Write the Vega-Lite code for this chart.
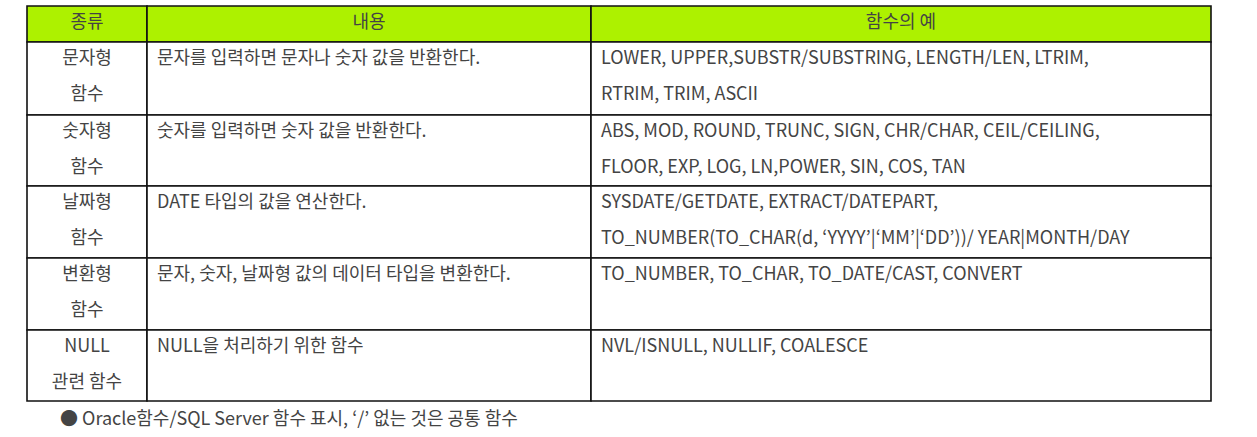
{
  "$schema": "https://vega.github.io/schema/vega-lite/v6.json",
  "width": 1257,
  "height": 437,
  "padding": 0,
  "autosize": {"type": "fit", "contains": "padding"},
  "background": "white",
  "config": {"view": {"stroke": null}},
  "datasets": {
    "rows": [
      {"r": 0, "top": 6, "bottom": 42},
      {"r": 1, "top": 42, "bottom": 115},
      {"r": 2, "top": 115, "bottom": 186},
      {"r": 3, "top": 186, "bottom": 258},
      {"r": 4, "top": 258, "bottom": 330},
      {"r": 5, "top": 330, "bottom": 401}
    ],
    "cols": [
      {"c": 0, "left": 27, "right": 147, "tx": 87, "hx": 87},
      {"c": 1, "left": 147, "right": 591, "tx": 157, "hx": 369},
      {"c": 2, "left": 591, "right": 1211, "tx": 601, "hx": 901}
    ],
    "cells": [
      {"r": 0, "c": 0, "t": "종류"},
      {"r": 0, "c": 1, "t": "내용"},
      {"r": 0, "c": 2, "t": "함수의 예"},
      {"r": 1, "c": 0, "t": "문자형\n함수"},
      {"r": 1, "c": 1, "t": "문자를 입력하면 문자나 숫자 값을 반환한다."},
      {"r": 1, "c": 2, "t": "LOWER, UPPER,SUBSTR/SUBSTRING, LENGTH/LEN, LTRIM,\nRTRIM, TRIM, ASCII"},
      {"r": 2, "c": 0, "t": "숫자형\n함수"},
      {"r": 2, "c": 1, "t": "숫자를 입력하면 숫자 값을 반환한다."},
      {"r": 2, "c": 2, "t": "ABS, MOD, ROUND, TRUNC, SIGN, CHR/CHAR, CEIL/CEILING,\nFLOOR, EXP, LOG, LN,POWER, SIN, COS, TAN"},
      {"r": 3, "c": 0, "t": "날짜형\n함수"},
      {"r": 3, "c": 1, "t": "DATE 타입의 값을 연산한다."},
      {"r": 3, "c": 2, "t": "SYSDATE/GETDATE, EXTRACT/DATEPART,\nTO_NUMBER(TO_CHAR(d, ‘YYYY’|‘MM’|‘DD’))/ YEAR|MONTH/DAY"},
      {"r": 4, "c": 0, "t": "변환형\n함수"},
      {"r": 4, "c": 1, "t": "문자, 숫자, 날짜형 값의 데이터 타입을 변환한다."},
      {"r": 4, "c": 2, "t": "TO_NUMBER, TO_CHAR, TO_DATE/CAST, CONVERT"},
      {"r": 5, "c": 0, "t": "NULL\n관련 함수"},
      {"r": 5, "c": 1, "t": "NULL을 처리하기 위한 함수"},
      {"r": 5, "c": 2, "t": "NVL/ISNULL, NULLIF, COALESCE"}
    ],
    "notes": [
      {"x": 60, "y": 420, "t": "● Oracle함수/SQL Server 함수 표시, ‘/’ 없는 것은 공통 함수"}
    ]
  },
  "layer": [
    {
      "data": {"name": "cells"},
      "transform": [
        {"lookup": "r", "from": {"data": {"name": "rows"}, "key": "r", "fields": ["top", "bottom"]}},
        {"lookup": "c", "from": {"data": {"name": "cols"}, "key": "c", "fields": ["left", "right", "tx", "hx"]}}
      ],
      "layer": [
        {
          "mark": {"type": "rect", "stroke": "#111", "strokeWidth": 1.6},
          "encoding": {
            "x": {"field": "left", "type": "quantitative", "scale": {"domain": [0, 1257], "nice": false, "zero": false}, "axis": null},
            "x2": {"field": "right"},
            "y": {"field": "top", "type": "quantitative", "scale": {"domain": [0, 437], "nice": false, "zero": false, "reverse": true}, "axis": null},
            "y2": {"field": "bottom"},
            "fill": {"condition": {"test": "datum.r == 0", "value": "#adf100"}, "value": "white"}
          }
        },
        {
          "transform": [{"filter": "datum.c == 0 || datum.r == 0"}],
          "mark": {"type": "text", "align": "center", "baseline": "top", "dy": 8, "lineBreak": "\n", "lineHeight": 36, "font": "Noto Sans CJK KR", "fontSize": 18, "color": "#444"},
          "encoding": {
            "x": {"field": "hx", "type": "quantitative"},
            "y": {"field": "top", "type": "quantitative"},
            "text": {"field": "t"}
          }
        },
        {
          "transform": [{"filter": "datum.c != 0 && datum.r != 0"}],
          "mark": {"type": "text", "align": "left", "baseline": "top", "dy": 8, "lineBreak": "\n", "lineHeight": 36, "font": "Noto Sans CJK KR", "fontSize": 18, "color": "#444"},
          "encoding": {
            "x": {"field": "tx", "type": "quantitative"},
            "y": {"field": "top", "type": "quantitative"},
            "text": {"field": "t"}
          }
        }
      ]
    },
    {
      "data": {"name": "notes"},
      "mark": {"type": "text", "align": "left", "baseline": "middle", "font": "Noto Sans CJK KR", "fontSize": 18, "color": "#444"},
      "encoding": {
        "x": {"field": "x", "type": "quantitative"},
        "y": {"field": "y", "type": "quantitative"},
        "text": {"field": "t"}
      }
    }
  ]
}
